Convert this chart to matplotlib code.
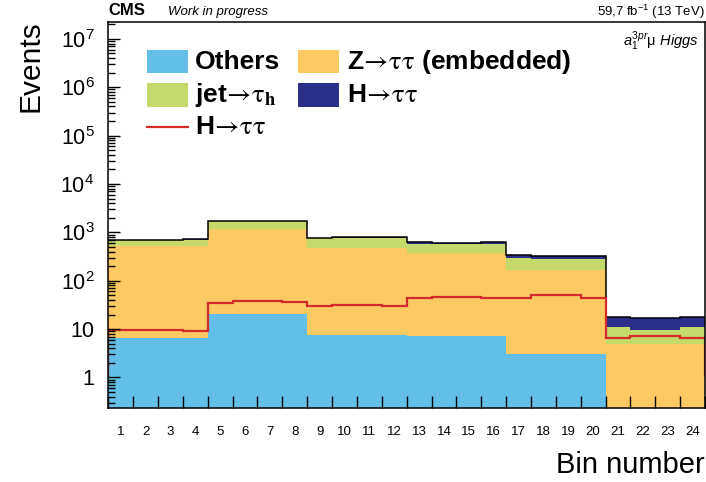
import numpy as np
import matplotlib
matplotlib.use('Agg')
import matplotlib.pyplot as plt
from matplotlib.patches import Rectangle
from matplotlib.ticker import LogLocator, FuncFormatter, NullFormatter

plt.rcParams['font.family'] = ['Liberation Sans', 'DejaVu Sans']
plt.rcParams['mathtext.fontset'] = 'custom'
plt.rcParams['mathtext.rm'] = 'Liberation Sans'
plt.rcParams['mathtext.it'] = 'Liberation Sans:italic'
plt.rcParams['mathtext.bf'] = 'Liberation Sans:bold'

# bin contents
bins = np.arange(1, 25)
others = [6.4, 6.4, 6.4, 6.4, 20.3, 20.3, 20.3, 20.3, 7.4, 7.4, 7.4, 7.4,
          7.2, 7.2, 7.2, 7.2, 3.0, 3.0, 3.0, 3.0, 0, 0, 0, 0]
ztt = [508, 508, 508, 508, 1155, 1155, 1155, 1155, 478, 478, 478, 478,
       358, 358, 358, 358, 162, 162, 162, 162, 5.0, 5.0, 5.0, 5.0]
jetfakes = [175, 165, 165, 196, 508, 508, 508, 508, 266, 273, 273, 276,
            216, 201, 201, 216, 127, 111, 111, 120, 5.8, 4.5, 4.5, 5.8]
higgs = [9.6, 9.7, 9.7, 9.3, 34.8, 38.3, 38.3, 36.5, 29.3, 32.2, 32.2, 29.3,
         42.9, 46.3, 46.3, 42.9, 44.1, 50.1, 50.1, 44.5, 6.6, 7.1, 7.1, 6.6]
decades = [1, 10, 1e2, 1e3, 1e4, 1e5, 1e6, 1e7]

c_others = '#63bfe8'
c_ztt = '#fcc963'
c_jet = '#c4da6a'
c_higgs = '#2b2f8a'
c_line = '#d42b2b'

edges = np.append(bins - 0.5, bins[-1] + 0.5)

fig = plt.figure(figsize=(7.06, 4.82), dpi=100)
ax = fig.add_axes([0.1534, 0.1529, 0.8452, 0.8008])

# stacked histogram
base = np.full(len(bins), 1e-3)
for vals, col in [(others, c_others), (ztt, c_ztt), (jetfakes, c_jet), (higgs, c_higgs)]:
    top = base + np.array(vals)
    ax.stairs(top, edges, baseline=base, fill=True, color=col, lw=0)
    base = top
ax.stairs(base, edges, baseline=None, color='black', lw=1.1)
ax.stairs(higgs, edges, baseline=1, color=c_line, lw=1.6)

ax.set_yscale('log')
ax.set_ylim(0.23, 2.2e7)
ax.set_xlim(edges[0], edges[-1])

# x axis: ticks on bin edges, labels at bin centres
ax.set_xticks(edges)
ax.set_xticklabels([])
ax.set_xticks(bins, minor=True)
ax.set_xticklabels([str(b) for b in bins], minor=True)
ax.tick_params(axis='x', which='major', direction='in', length=8.4, width=1)
ax.tick_params(axis='x', which='minor', length=0, labelsize=9.5, pad=13)

def ylab(v, pos):
    if np.isclose(v, 1):
        return '1'
    if np.isclose(v, 10):
        return '10'
    return r'$10^{%d}$' % int(round(np.log10(v)))

ax.set_yticks(decades)
ax.yaxis.set_minor_locator(LogLocator(base=10, subs=np.arange(2, 10), numticks=20))
ax.yaxis.set_major_formatter(FuncFormatter(ylab))
ax.yaxis.set_minor_formatter(NullFormatter())
ax.set_ylim(0.23, 2.2e7)
ax.tick_params(axis='y', which='major', direction='in', length=8.5, width=1, labelsize=15.5, pad=10)
ax.tick_params(axis='y', which='minor', direction='in', length=4.8, width=1)
for sp in ax.spines.values():
    sp.set_linewidth(1.1)

# legend drawn by hand (ROOT style, two columns)
arrow = r'$\!\rightarrow\!\mathrm{\tau\tau}$'
leg = [(0.0644, 0.898, 'box', c_others, 'Others'),
       (0.0644, 0.8117, 'box', c_jet, r'jet$\!\rightarrow\!\mathrm{\tau}_{\mathbf{h}}$'),
       (0.0644, 0.728, 'line', c_line, 'H' + arrow),
       (0.3184, 0.898, 'box', c_ztt, 'Z' + arrow + ' (embedded)'),
       (0.3184, 0.8117, 'box', c_higgs, 'H' + arrow)]
for x, y, kind, col, label in leg:
    if kind == 'box':
        ax.add_patch(Rectangle((x, y - 0.0302), 0.0687, 0.0604, transform=ax.transAxes,
                               facecolor=col, edgecolor='none'))
    else:
        ax.plot([x, x + 0.0687], [y, y], color=col, lw=1.6, transform=ax.transAxes)
    ax.text(x + 0.0809, y, label, transform=ax.transAxes, fontsize=19, fontweight='bold',
            va='center', ha='left', math_fontfamily='stix')

ax.text(0.990, 0.9386, r'$a_{\mathit{1}}^{\mathit{3pr}}$μ $\mathit{Higgs}$', transform=ax.transAxes,
        ha='right', va='baseline', fontsize=10.5)

fig.text(108 / 706, 1 - 15 / 482, 'CMS', fontweight='bold', fontsize=12, va='baseline')
fig.text(168 / 706, 1 - 15 / 482, 'Work in progress', style='italic', fontsize=9.5, va='baseline')
fig.text(705 / 706, 1 - 16 / 482, r'59,7 fb$^{-1}$ (13 TeV)', ha='right', fontsize=9.5, va='baseline')
fig.text(45 / 706, 1 - 20 / 482, 'Events', rotation=90, ha='right', va='top', fontsize=21.5)
fig.text(705 / 706, 1 - 473 / 482, 'Bin number', ha='right', va='baseline', fontsize=21)

fig.savefig('out.png', dpi=100)
